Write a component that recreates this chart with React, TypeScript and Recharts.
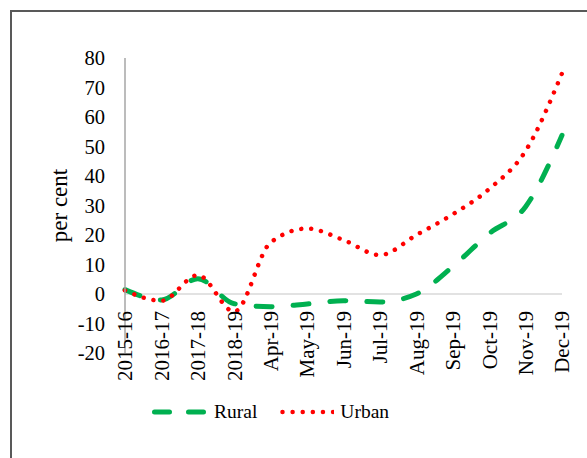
import React from "react";
import {
  LineChart,
  Line,
  XAxis,
  YAxis,
  ReferenceLine,
} from "recharts";

const categories = [
  "2015-16",
  "2016-17",
  "2017-18",
  "2018-19",
  "Apr-19",
  "May-19",
  "Jun-19",
  "Jul-19",
  "Aug-19",
  "Sep-19",
  "Oct-19",
  "Nov-19",
  "Dec-19",
];
const rural = [1.5, -2, 5.2, -3.3, -4.3, -3.4, -2.3, -2.7, 0, 9.3, 20.5, 29.6, 53.8];
const urban = [1.2, -2.3, 6.4, -6, 17.5, 22.2, 18.3, 13.2, 20, 27, 35.6, 48.5, 74.8];
const yTicks = [-20, -10, 0, 10, 20, 30, 40, 50, 60, 70, 80];
const seriesNames = { rural: "Rural", urban: "Urban" };

const data = categories.map((c, i) => ({ cat: c, rural: rural[i], urban: urban[i] }));

const FONT = "'Liberation Serif', 'Times New Roman', serif";
const GREEN = "#00b050";
const RED = "#ff0000";

// labels sit just under the zero line, like Excel's "next to axis"
function XTick(props: any) {
  const { x, y, payload } = props;
  return (
    <text
      x={x}
      y={y - 42}
      dy="0.35em"
      transform={`rotate(-90, ${x}, ${y - 42})`}
      textAnchor="end"
      fontFamily={FONT}
      fontSize={21}
      fill="#000"
    >
      {payload.value}
    </text>
  );
}

function YLabel(props: any) {
  const vb = props.viewBox || {};
  const cx = vb.x + 59;
  const cy = vb.y + vb.height / 2;
  return (
    <text
      x={cx}
      y={cy}
      dy="0.35em"
      transform={`rotate(-90, ${cx}, ${cy})`}
      textAnchor="middle"
      fontFamily={FONT}
      fontSize={23}
      fill="#000"
    >
      per cent
    </text>
  );
}

export default function App() {
  return (
    <div style={{ position: "relative", width: 587, height: 458, overflow: "hidden", background: "#fff" }}>
      <style>{`body{margin:0}`}</style>
      <div
        style={{
          position: "absolute",
          left: 10,
          top: 10,
          width: 620,
          height: 500,
          borderLeft: "2px solid #595959",
          borderTop: "2px solid #595959",
        }}
      />
      <LineChart
        width={587}
        height={458}
        data={data}
        margin={{ top: 58, right: 25, left: 0, bottom: 0 }}
        style={{ position: "absolute", left: 0, top: 0 }}
      >
        <XAxis
          dataKey="cat"
          height={105}
          axisLine={false}
          tickLine={false}
          tickSize={0}
          tickMargin={0}
          interval={0}
          tick={<XTick />}
        />
        <YAxis
          width={125}
          domain={[-20, 80]}
          ticks={yTicks}
          interval={0}
          axisLine={{ stroke: "#a6a6a6", strokeWidth: 1.5 }}
          tickLine={false}
          tickSize={0}
          tickMargin={20}
          tick={{ fontFamily: FONT, fontSize: 20.5, fill: "#000" }}
          label={<YLabel />}
        />
        <ReferenceLine y={0} stroke="#d9d9d9" strokeWidth={1.5} />
        <Line
          type="monotone"
          dataKey="rural"
          name={seriesNames.rural}
          stroke={GREEN}
          strokeWidth={5}
          strokeDasharray="16 21"
          strokeLinecap="round"
          dot={false}
          isAnimationActive={false}
        />
        <Line
          type="monotone"
          dataKey="urban"
          name={seriesNames.urban}
          stroke={RED}
          strokeWidth={4.5}
          strokeDasharray="0.01 10"
          strokeLinecap="round"
          dot={false}
          isAnimationActive={false}
        />
      </LineChart>
      <div
        style={{
          position: "absolute",
          left: 152,
          top: 401,
          display: "flex",
          alignItems: "center",
          fontFamily: FONT,
          fontSize: 19.5,
          color: "#000",
        }}
      >
        <svg width={54} height={10}>
          <line x1={2.5} y1={5} x2={53.5} y2={5} stroke={GREEN} strokeWidth={5} strokeDasharray="15 19" strokeLinecap="round" />
        </svg>
        <span style={{ marginLeft: 8 }}>{seriesNames.rural}</span>
        <svg width={54} height={10} style={{ marginLeft: 23 }}>
          <line x1={2.5} y1={5} x2={53.5} y2={5} stroke={RED} strokeWidth={4.5} strokeDasharray="0.01 10.1" strokeLinecap="round" />
        </svg>
        <span style={{ marginLeft: 6 }}>{seriesNames.urban}</span>
      </div>
    </div>
  );
}
